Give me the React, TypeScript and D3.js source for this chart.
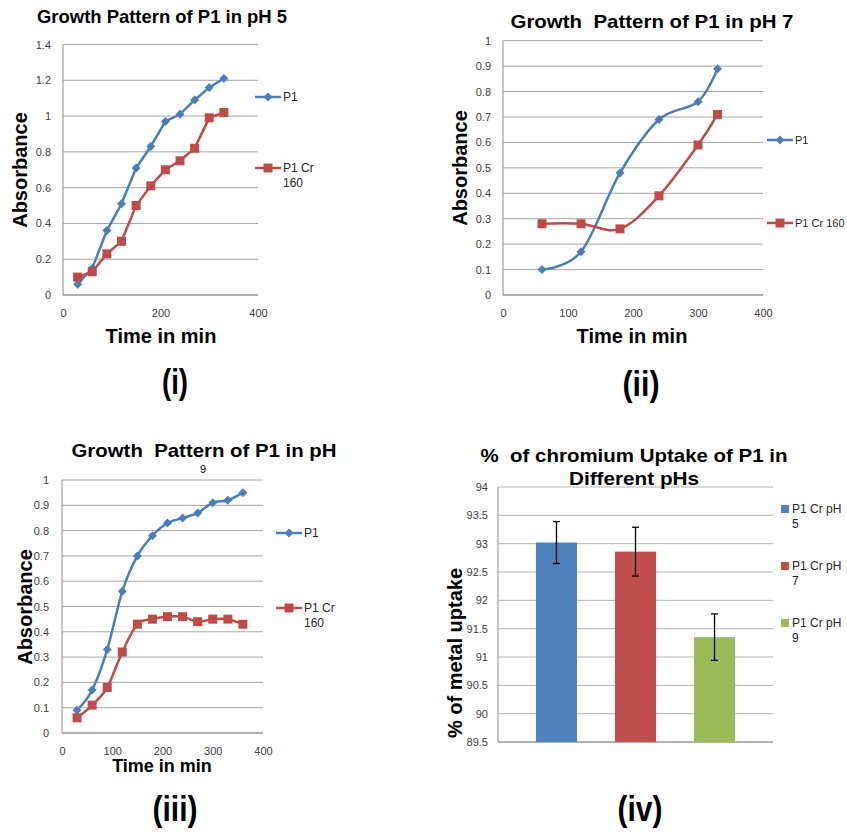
import React, { useEffect, useRef } from "react";
import * as d3 from "d3";

// (i) pH 5
const timePH5 = [30, 60, 90, 120, 150, 180, 210, 240, 270, 300, 330];
const p1PH5 = [0.06, 0.15, 0.36, 0.51, 0.71, 0.83, 0.97, 1.01, 1.09, 1.16, 1.21];
const crPH5 = [0.1, 0.13, 0.23, 0.3, 0.5, 0.61, 0.7, 0.75, 0.82, 0.99, 1.02];

// (ii) pH 7
const timePH7 = [60, 120, 180, 240, 300, 330];
const p1PH7 = [0.1, 0.17, 0.48, 0.69, 0.76, 0.89];
const crPH7 = [0.28, 0.28, 0.26, 0.39, 0.59, 0.71];

// (iii) pH 9
const timePH9 = [30, 60, 90, 120, 150, 180, 210, 240, 270, 300, 330, 360];
const p1PH9 = [0.09, 0.17, 0.33, 0.56, 0.7, 0.78, 0.83, 0.85, 0.87, 0.91, 0.92, 0.95];
const crPH9 = [0.06, 0.11, 0.18, 0.32, 0.43, 0.45, 0.46, 0.46, 0.44, 0.45, 0.45, 0.43];

const seriesNames = ["P1", "P1 Cr 160"];

// (iv) chromium uptake
const barSeries = ["P1 Cr pH 5", "P1 Cr pH 7", "P1 Cr pH 9"];
const barValues = [93.02, 92.86, 91.35];
const barErrors = [0.37, 0.43, 0.41];

const FONT = "'Liberation Sans', Arial, sans-serif";
const BLUE = "#4A7EBB";
const RED = "#BE4B48";
const BAR_COLORS = ["#4F81BD", "#C0504D", "#9BBB59"];
const GRID = "#a6a6a6";

const fmt = (d: number) => d3.format("~g")(+d.toFixed(2));

function boldText(root, x, y, txt, size, opts: any = {}) {
  const t = root
    .append("text")
    .attr("x", x)
    .attr("y", y)
    .attr("text-anchor", "middle")
    .attr("font-family", FONT)
    .attr("font-weight", opts.weight || "bold")
    .attr("font-size", size)
    .attr("fill", "#000")
    .style("white-space", "pre")
    .text(txt);
  if (opts.len) t.attr("textLength", opts.len).attr("lengthAdjust", "spacingAndGlyphs");
  if (opts.rotate) t.attr("transform", `rotate(-90,${x},${y})`);
  return t;
}

function marker(g, shape, cx, cy, color) {
  if (shape === "diamond") {
    const r = 4.5;
    g.append("path")
      .attr("d", `M${cx},${cy - r}L${cx + r},${cy}L${cx},${cy + r}L${cx - r},${cy}Z`)
      .attr("fill", color);
  } else {
    g.append("rect")
      .attr("x", cx - 4.5)
      .attr("y", cy - 4.5)
      .attr("width", 9)
      .attr("height", 9)
      .attr("fill", color);
  }
}

function linePanel(root, o) {
  const g = root.append("g").attr("transform", `translate(${o.left},${o.top})`);
  const x = d3.scaleLinear().domain([0, 400]).range([0, o.w]);
  const y = d3.scaleLinear().domain([0, o.yMax]).range([o.h, 0]);
  const yTicks = d3.range(0, Math.round(o.yMax / o.yStep) + 1).map((i) => +(i * o.yStep).toFixed(2));

  // horizontal grid lines
  g.append("g")
    .selectAll("line")
    .data(yTicks)
    .join("line")
    .attr("x1", 0)
    .attr("x2", o.w)
    .attr("y1", (d) => y(d))
    .attr("y2", (d) => y(d))
    .attr("stroke", GRID);
  g.append("line").attr("x1", 0).attr("x2", 0).attr("y1", 0).attr("y2", o.h).attr("stroke", "#8c8c8c");
  g.append("line").attr("x1", 0).attr("x2", o.w).attr("y1", o.h).attr("y2", o.h).attr("stroke", "#8c8c8c");

  const ya = g
    .append("g")
    .call(d3.axisLeft(y).tickValues(yTicks).tickSize(0).tickPadding(o.yPad).tickFormat(fmt));
  ya.select(".domain").remove();
  ya.attr("font-size", 11).attr("font-family", FONT).attr("color", "#404040");

  const xa = g
    .append("g")
    .attr("transform", `translate(0,${o.h})`)
    .call(d3.axisBottom(x).tickValues(o.xTicks).tickSize(0).tickPadding(o.xPad).tickFormat(fmt));
  xa.select(".domain").remove();
  xa.attr("font-size", 11).attr("font-family", FONT).attr("color", "#404040");

  const series = [
    { vals: o.p1, color: BLUE, shape: "diamond" },
    { vals: o.cr, color: RED, shape: "square" },
  ];
  const line = d3
    .line<[number, number]>()
    .x((d) => x(d[0]))
    .y((d) => y(d[1]))
    .curve(o.smooth ? d3.curveCardinal.tension(0) : d3.curveLinear);

  series.forEach((s) => {
    const pts: [number, number][] = o.time.map((t, i) => [t, s.vals[i]]);
    g.append("path")
      .datum(pts)
      .attr("fill", "none")
      .attr("stroke", s.color)
      .attr("stroke-width", 2.5)
      .attr("d", line);
    const mg = g.append("g");
    pts.forEach((p) => marker(mg, s.shape, x(p[0]), y(p[1]), s.color));
  });

  // legend
  const lg = root.append("g");
  series.forEach((s, i) => {
    const ly = o.legendY[i];
    lg.append("line")
      .attr("x1", o.legendX)
      .attr("x2", o.legendX + 26)
      .attr("y1", ly)
      .attr("y2", ly)
      .attr("stroke", s.color)
      .attr("stroke-width", 2.5);
    marker(lg, s.shape, o.legendX + 13, ly, s.color);
    const lines = o.wrap && i === 1 ? ["P1 Cr", "160"] : [seriesNames[i]];
    lines.forEach((t, k) =>
      lg.append("text")
        .attr("x", o.legendX + 28)
        .attr("y", ly + 4 + k * 15)
        .attr("font-family", FONT)
        .attr("font-size", o.legendSize)
        .attr("fill", "#262626")
        .text(t)
    );
  });

  boldText(root, o.title.cx, o.title.y, o.title.text, 19, { len: o.title.len });
  boldText(root, o.yLab.x, o.yLab.cy, "Absorbance", 20, { rotate: true });
  boldText(root, o.xLab.cx, o.xLab.y, "Time in min", o.xLab.size);
  boldText(root, o.panel.cx, o.panel.y, o.panel.text, 35, { len: o.panel.len });
}

function barPanel(root, o) {
  const g = root.append("g").attr("transform", `translate(${o.left},${o.top})`);
  const x = d3.scaleBand().domain(barSeries).range([0, o.w]).padding(0.48);
  const y = d3.scaleLinear().domain([89.5, 94]).range([o.h, 0]);
  const yTicks = d3.range(0, 10).map((i) => 89.5 + i * 0.5);

  g.append("g")
    .selectAll("line")
    .data(yTicks)
    .join("line")
    .attr("x1", 0)
    .attr("x2", o.w)
    .attr("y1", (d) => y(d))
    .attr("y2", (d) => y(d))
    .attr("stroke", "#b3b3b3");
  g.append("line").attr("x1", 0).attr("x2", 0).attr("y1", 0).attr("y2", o.h).attr("stroke", "#8c8c8c");
  g.append("line").attr("x1", 0).attr("x2", o.w).attr("y1", o.h).attr("y2", o.h).attr("stroke", "#8c8c8c");

  const ya = g.append("g").call(d3.axisLeft(y).tickValues(yTicks).tickSize(0).tickPadding(10).tickFormat(fmt));
  ya.select(".domain").remove();
  ya.attr("font-size", 11).attr("font-family", FONT).attr("color", "#404040");

  g.selectAll("rect.bar")
    .data(barSeries)
    .join("rect")
    .attr("class", "bar")
    .attr("x", (d) => x(d)!)
    .attr("width", x.bandwidth())
    .attr("y", (d, i) => y(barValues[i]))
    .attr("height", (d, i) => o.h - y(barValues[i]))
    .attr("fill", (d, i) => BAR_COLORS[i]);

  // error bars
  barSeries.forEach((s, i) => {
    const cx = x(s)! + x.bandwidth() / 2;
    const hi = y(barValues[i] + barErrors[i]);
    const lo = y(barValues[i] - barErrors[i]);
    const eg = g.append("g").attr("stroke", "#000").attr("stroke-width", 1.3);
    eg.append("line").attr("x1", cx).attr("x2", cx).attr("y1", hi).attr("y2", lo);
    eg.append("line").attr("x1", cx - 3.5).attr("x2", cx + 3.5).attr("y1", hi).attr("y2", hi);
    eg.append("line").attr("x1", cx - 3.5).attr("x2", cx + 3.5).attr("y1", lo).attr("y2", lo);
  });

  // legend
  barSeries.forEach((s, i) => {
    const ly = o.legendY[i];
    root.append("rect")
      .attr("x", o.legendX)
      .attr("y", ly - 4)
      .attr("width", 8)
      .attr("height", 8)
      .attr("fill", BAR_COLORS[i]);
    const parts = [s.slice(0, s.lastIndexOf(" ")), s.slice(s.lastIndexOf(" ") + 1)];
    parts.forEach((t, k) =>
      root.append("text")
        .attr("x", o.legendX + 11)
        .attr("y", ly + 4 + k * 15)
        .attr("font-family", FONT)
        .attr("font-size", 12)
        .attr("fill", "#262626")
        .text(t)
    );
  });

  boldText(root, o.cx, 462, "%  of chromium Uptake of P1 in", 19, { len: 307 });
  boldText(root, o.cx, 485, "Different pHs", 19, { len: 130 });
  boldText(root, 462, 653, "% of metal uptake", 20, { rotate: true });
  boldText(root, 640, 821, "(iv)", 35, { len: 45 });
}

const App = () => {
  const svgRef = useRef<SVGSVGElement>(null);

  useEffect(() => {
    const svg = d3.select(svgRef.current);
    svg.selectAll("*").remove();

    linePanel(svg, {
      left: 63, top: 44.5, w: 195, h: 250.5, yMax: 1.4, yStep: 0.2, yPad: 12, xPad: 14,
      xTicks: [0, 200, 400], smooth: false,
      time: timePH5, p1: p1PH5, cr: crPH5,
      legendX: 255, legendY: [97, 168], wrap: true, legendSize: 12,
      title: { text: "Growth Pattern of P1 in pH 5", cx: 162, y: 23, len: 250 },
      yLab: { x: 27, cy: 170 },
      xLab: { cx: 161, y: 343, size: 20 },
      panel: { text: "(i)", cx: 175, y: 394, len: 26 },
    });

    linePanel(svg, {
      left: 503, top: 40.7, w: 260, h: 254.3, yMax: 1, yStep: 0.1, yPad: 12, xPad: 14,
      xTicks: [0, 100, 200, 300, 400], smooth: true,
      time: timePH7, p1: p1PH7, cr: crPH7,
      legendX: 767, legendY: [140, 223], wrap: false, legendSize: 11,
      title: { text: "Growth  Pattern of P1 in pH 7", cx: 652, y: 28, len: 283 },
      yLab: { x: 467, cy: 168 },
      xLab: { cx: 632, y: 343, size: 20 },
      panel: { text: "(ii)", cx: 641, y: 396, len: 37 },
    });

    linePanel(svg, {
      left: 62, top: 480, w: 201, h: 253, yMax: 1, yStep: 0.1, yPad: 13, xPad: 14,
      xTicks: [0, 100, 200, 300, 400], smooth: true,
      time: timePH9, p1: p1PH9, cr: crPH9,
      legendX: 276, legendY: [533, 608], wrap: true, legendSize: 12,
      title: { text: "Growth  Pattern of P1 in pH", cx: 204, y: 457, len: 265 },
      yLab: { x: 32, cy: 607 },
      xLab: { cx: 162, y: 772, size: 18 },
      panel: { text: "(iii)", cx: 175, y: 821, len: 45 },
    });
    svg.append("text")
      .attr("x", 203)
      .attr("y", 473)
      .attr("text-anchor", "middle")
      .attr("font-family", FONT)
      .attr("font-size", 11)
      .text("9");

    barPanel(svg, {
      left: 498, top: 487, w: 275, h: 255, cx: 634,
      legendX: 781, legendY: [509, 566, 623],
    });
  }, []);

  return (
    <svg
      ref={svgRef}
      width={847}
      height={832}
      style={{ position: "absolute", left: 0, top: 0, background: "#fff" }}
    />
  );
};

export default App;
